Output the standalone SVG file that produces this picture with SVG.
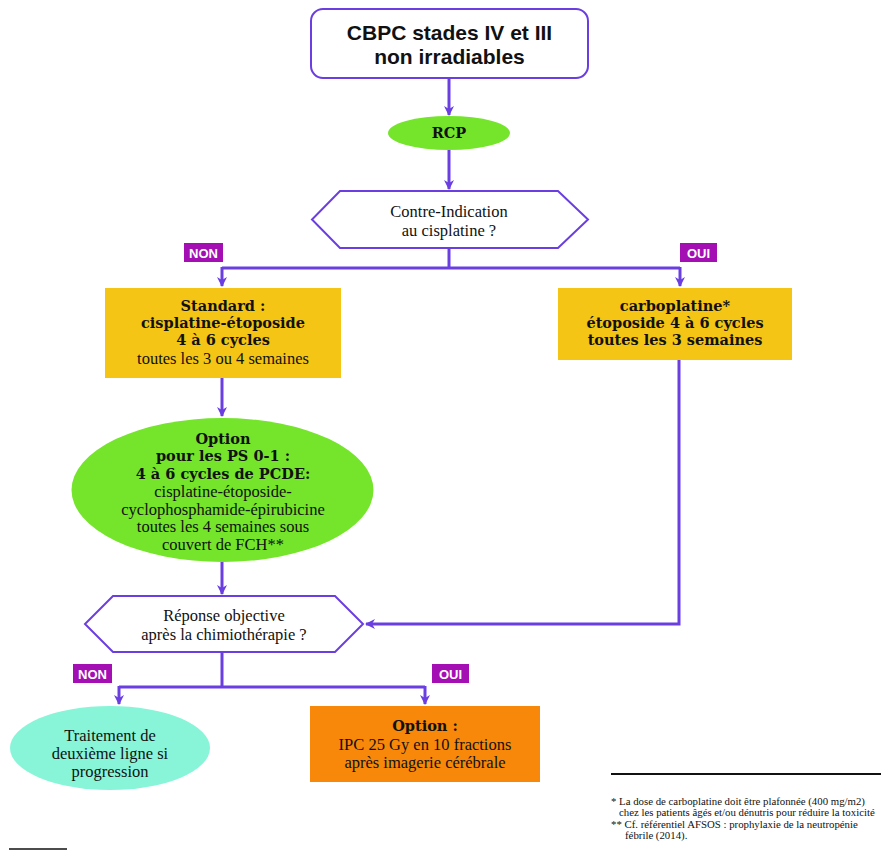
<svg xmlns="http://www.w3.org/2000/svg" width="881" height="850" viewBox="0 0 881 850">
<style>
.ln{fill:none;stroke:#6a3ee0;stroke-width:3}
.s{font-family:"Liberation Serif","Times New Roman",serif;font-size:16.5px;fill:#111;text-anchor:middle}
.b{font-family:"DejaVu Serif","Liberation Serif",serif;font-size:14.5px;font-weight:bold}
.tag{fill:#a40fb4}
.tagt{font-family:"Liberation Sans",Arial,sans-serif;font-weight:bold;font-size:13px;fill:#fff;text-anchor:middle}
.fn{font-family:"Liberation Serif","Times New Roman",serif;font-size:10.8px;fill:#111}
</style>
<defs>
<marker id="ah" markerWidth="10" markerHeight="10" refX="9" refY="5" orient="auto" markerUnits="userSpaceOnUse" viewBox="0 0 10 10">
<path d="M0,0 L10,5 L0,10 L3,5 z" fill="#6a3ee0"/>
</marker>
</defs>
<rect width="881" height="850" fill="#fff"/>
<g id="connectors">
<line class="ln" x1="449" y1="78" x2="449" y2="115" marker-end="url(#ah)"/>
<line class="ln" x1="449" y1="150" x2="449" y2="189" marker-end="url(#ah)"/>
<polyline class="ln" points="449,248 449,268"/>
<polyline class="ln" points="222,268 680,268"/>
<line class="ln" x1="222" y1="267" x2="222" y2="286" marker-end="url(#ah)"/>
<line class="ln" x1="680" y1="267" x2="680" y2="286" marker-end="url(#ah)"/>
<line class="ln" x1="222" y1="378" x2="222" y2="416" marker-end="url(#ah)"/>
<line class="ln" x1="222" y1="562" x2="222" y2="594" marker-end="url(#ah)"/>
<polyline class="ln" points="679,360 679,624 366,624" marker-end="url(#ah)"/>
<polyline class="ln" points="222,652 222,687"/>
<polyline class="ln" points="119,687 425,687"/>
<line class="ln" x1="119" y1="686" x2="119" y2="704" marker-end="url(#ah)"/>
<line class="ln" x1="425" y1="686" x2="425" y2="704" marker-end="url(#ah)"/>
</g>
<g id="start">
<rect x="311" y="9" width="277" height="69" rx="12" fill="#fff" stroke="#6a3ee0" stroke-width="2"/>
<text x="449.5" y="40" font-family="Liberation Sans,Arial,sans-serif" font-weight="bold" font-size="21" text-anchor="middle" fill="#111">CBPC stades IV et III</text>
<text x="449.5" y="64" font-family="Liberation Sans,Arial,sans-serif" font-weight="bold" font-size="21" text-anchor="middle" fill="#111">non irradiables</text>
</g>
<g id="rcp">
<ellipse cx="449" cy="133" rx="61" ry="17" fill="#74e52b"/>
<text class="s b" x="449" y="138">RCP</text>
</g>
<g id="q1">
<polygon points="340,191 558,191 588,219.5 558,248 340,248 312,219.5" fill="#fff" stroke="#6a3ee0" stroke-width="2"/>
<text class="s" x="449" y="217">Contre-Indication</text>
<text class="s" x="449" y="236">au cisplatine ?</text>
</g>
<g id="tag-non1"><rect class="tag" x="184" y="243" width="39" height="19"/><text class="tagt" x="203.5" y="257.5">NON</text></g>
<g id="tag-oui1"><rect class="tag" x="680" y="243" width="37" height="19"/><text class="tagt" x="698.5" y="257.5">OUI</text></g>
<g id="standard">
<rect x="105" y="288" width="236" height="90" fill="#f4c514"/>
<text class="s b" x="223" y="311">Standard :</text>
<text class="s b" x="223" y="328">cisplatine-étoposide</text>
<text class="s b" x="223" y="345">4 à 6 cycles</text>
<text class="s" x="223" y="364">toutes les 3 ou 4 semaines</text>
</g>
<g id="carbo">
<rect x="558" y="288" width="234" height="72" fill="#f4c514"/>
<text class="s b" x="675" y="311">carboplatine*</text>
<text class="s b" x="675" y="328">étoposide 4 à 6 cycles</text>
<text class="s b" x="675" y="345">toutes les 3 semaines</text>
</g>
<g id="option-pcde">
<ellipse cx="222.5" cy="490" rx="151" ry="72" fill="#74e52b"/>
<text class="s b" x="223" y="444">Option</text>
<text class="s b" x="223" y="461">pour les PS 0-1 :</text>
<text class="s b" x="223" y="479">4 à 6 cycles de PCDE:</text>
<text class="s" x="223" y="497">cisplatine-étoposide-</text>
<text class="s" x="223" y="514.5">cyclophosphamide-épirubicine</text>
<text class="s" x="223" y="532">toutes les 4 semaines sous</text>
<text class="s" x="223" y="549.5">couvert de FCH**</text>
</g>
<g id="q2">
<polygon points="113,596 335,596 363,624 335,652 113,652 85,624" fill="#fff" stroke="#6a3ee0" stroke-width="2"/>
<text class="s" x="224" y="621">Réponse objective</text>
<text class="s" x="224" y="640">après la chimiothérapie ?</text>
</g>
<g id="tag-non2"><rect class="tag" x="73" y="664" width="39" height="19"/><text class="tagt" x="92.5" y="678.5">NON</text></g>
<g id="tag-oui2"><rect class="tag" x="432" y="664" width="37" height="19"/><text class="tagt" x="450.5" y="678.5">OUI</text></g>
<g id="second-line">
<ellipse cx="110" cy="748" rx="100" ry="42" fill="#88f5d8"/>
<text class="s" x="110" y="741">Traitement de</text>
<text class="s" x="110" y="759">deuxième ligne si</text>
<text class="s" x="110" y="777">progression</text>
</g>
<g id="ipc">
<rect x="310" y="706" width="230" height="76" fill="#f8880a"/>
<text class="s b" x="425" y="731">Option :</text>
<text class="s" x="425" y="750">IPC 25 Gy en 10 fractions</text>
<text class="s" x="425" y="768">après imagerie cérébrale</text>
</g>
<g id="footnotes">
<line x1="611" y1="774" x2="881" y2="774" stroke="#111" stroke-width="2"/>
<text class="fn" x="611" y="805">* La dose de carboplatine doit être plafonnée (400 mg/m2)</text>
<text class="fn" x="619" y="816">chez les patients âgés et/ou dénutris pour réduire la toxicité</text>
<text class="fn" x="611" y="828">** Cf. référentiel AFSOS : prophylaxie de la neutropénie</text>
<text class="fn" x="625" y="839">fébrile (2014).</text>
<line x1="9" y1="849" x2="67" y2="849" stroke="#111" stroke-width="1.5"/>
</g>
</svg>
